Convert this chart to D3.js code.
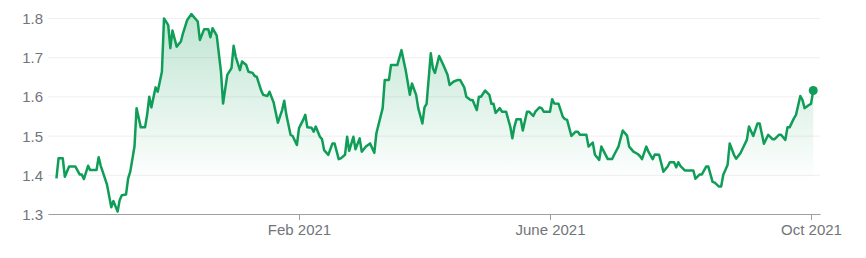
<!DOCTYPE html>
<html>
<head>
<meta charset="utf-8">
<script src="https://cdn.jsdelivr.net/npm/d3@7"></script>
<style>
  html, body { margin: 0; padding: 0; background: #fff; }
  svg { display: block; }
  .axis text { font-family: Arial, "Liberation Sans", sans-serif; fill: #70757a; }
</style>
</head>
<body>
<div id="chart"></div>
<script>
const dates = [
  "2020-10-09","2020-10-10","2020-10-12","2020-10-13","2020-10-15","2020-10-18","2020-10-20","2020-10-21",
  "2020-10-22","2020-10-24","2020-10-25","2020-10-28","2020-10-29","2020-10-30","2020-11-01","2020-11-02",
  "2020-11-04","2020-11-05","2020-11-07","2020-11-08","2020-11-09","2020-11-11","2020-11-12","2020-11-13",
  "2020-11-15","2020-11-16","2020-11-18","2020-11-20","2020-11-21","2020-11-22","2020-11-23","2020-11-25",
  "2020-11-26","2020-11-28","2020-11-29","2020-12-01","2020-12-02","2020-12-03","2020-12-05","2020-12-07",
  "2020-12-08","2020-12-10","2020-12-12","2020-12-15","2020-12-16","2020-12-18","2020-12-20","2020-12-21",
  "2020-12-22","2020-12-24","2020-12-26","2020-12-27","2020-12-29","2020-12-31","2021-01-01","2021-01-02",
  "2021-01-04","2021-01-05","2021-01-07","2021-01-08","2021-01-10","2021-01-11","2021-01-12","2021-01-14",
  "2021-01-15","2021-01-17","2021-01-18","2021-01-20","2021-01-21","2021-01-22","2021-01-24","2021-01-25",
  "2021-01-26","2021-01-28","2021-01-29","2021-01-31","2021-02-01","2021-02-03","2021-02-04","2021-02-05",
  "2021-02-07","2021-02-08","2021-02-09","2021-02-11","2021-02-12","2021-02-13","2021-02-15","2021-02-17",
  "2021-02-18","2021-02-20","2021-02-21","2021-02-23","2021-02-24","2021-02-25","2021-02-27","2021-02-28",
  "2021-03-02","2021-03-03","2021-03-05","2021-03-07","2021-03-09","2021-03-10","2021-03-13","2021-03-14",
  "2021-03-16","2021-03-17","2021-03-20","2021-03-22","2021-03-24","2021-03-26","2021-03-27","2021-03-29",
  "2021-03-30","2021-04-01","2021-04-02","2021-04-03","2021-04-05","2021-04-06","2021-04-07","2021-04-09",
  "2021-04-11","2021-04-13","2021-04-14","2021-04-16","2021-04-18","2021-04-19","2021-04-21","2021-04-22",
  "2021-04-24","2021-04-25","2021-04-27","2021-04-28","2021-04-29","2021-05-01","2021-05-03","2021-05-04",
  "2021-05-05","2021-05-06","2021-05-08","2021-05-09","2021-05-11","2021-05-13","2021-05-14","2021-05-15",
  "2021-05-16","2021-05-18","2021-05-19","2021-05-21","2021-05-22","2021-05-24","2021-05-25","2021-05-27",
  "2021-05-28","2021-05-29","2021-06-01","2021-06-02","2021-06-03","2021-06-05","2021-06-07","2021-06-08",
  "2021-06-09","2021-06-11","2021-06-13","2021-06-14","2021-06-15","2021-06-18","2021-06-19","2021-06-21",
  "2021-06-22","2021-06-24","2021-06-25","2021-06-27","2021-06-28","2021-06-30","2021-07-01","2021-07-03",
  "2021-07-05","2021-07-07","2021-07-08","2021-07-10","2021-07-12","2021-07-13","2021-07-14","2021-07-16",
  "2021-07-17","2021-07-19","2021-07-20","2021-07-22","2021-07-24","2021-07-26","2021-07-27","2021-07-29",
  "2021-07-30","2021-07-31","2021-08-01","2021-08-03","2021-08-07","2021-08-08","2021-08-10","2021-08-11",
  "2021-08-13","2021-08-14","2021-08-16","2021-08-17","2021-08-19","2021-08-20","2021-08-21","2021-08-23",
  "2021-08-24","2021-08-26","2021-08-27","2021-08-29","2021-09-01","2021-09-02","2021-09-04","2021-09-06",
  "2021-09-07","2021-09-09","2021-09-11","2021-09-13","2021-09-14","2021-09-16","2021-09-17","2021-09-19",
  "2021-09-20","2021-09-21","2021-09-23","2021-09-24","2021-09-26","2021-09-27","2021-09-28","2021-09-30",
  "2021-10-01","2021-10-02"
]
const prices = [
  1.391,1.442,1.442,1.395,1.421,1.421,1.401,1.401,
  1.389,1.423,1.412,1.412,1.445,1.423,1.391,1.374,
  1.317,1.333,1.306,1.336,1.348,1.350,1.391,1.408,
  1.472,1.570,1.521,1.521,1.553,1.599,1.572,1.623,
  1.612,1.663,1.799,1.782,1.723,1.768,1.727,1.740,
  1.761,1.795,1.810,1.791,1.744,1.771,1.771,1.751,
  1.774,1.755,1.663,1.582,1.655,1.672,1.729,1.701,
  1.667,1.689,1.680,1.663,1.660,1.652,1.650,1.616,
  1.604,1.601,1.612,1.584,1.558,1.533,1.565,1.589,
  1.553,1.502,1.499,1.476,1.519,1.540,1.553,1.521,
  1.520,1.510,1.523,1.497,1.491,1.463,1.451,1.480,
  1.480,1.440,1.442,1.451,1.497,1.461,1.497,1.465,
  1.493,1.459,1.472,1.480,1.456,1.506,1.570,1.642,
  1.642,1.680,1.680,1.718,1.667,1.604,1.633,1.604,
  1.570,1.531,1.572,1.581,1.710,1.672,1.660,1.703,
  1.680,1.655,1.629,1.638,1.642,1.642,1.623,1.599,
  1.591,1.591,1.565,1.599,1.599,1.615,1.604,1.581,
  1.581,1.558,1.570,1.561,1.561,1.523,1.493,1.523,
  1.542,1.542,1.513,1.561,1.561,1.550,1.561,1.572,
  1.570,1.561,1.561,1.593,1.582,1.581,1.548,1.542,
  1.540,1.499,1.510,1.510,1.502,1.502,1.472,1.482,
  1.451,1.438,1.472,1.451,1.440,1.440,1.451,1.472,
  1.513,1.500,1.472,1.459,1.453,1.448,1.440,1.472,
  1.459,1.440,1.452,1.451,1.408,1.421,1.432,1.432,
  1.419,1.432,1.422,1.411,1.411,1.390,1.401,1.401,
  1.421,1.421,1.382,1.380,1.370,1.370,1.400,1.425,
  1.480,1.451,1.441,1.455,1.489,1.523,1.499,1.531,
  1.531,1.479,1.502,1.491,1.491,1.502,1.502,1.489,
  1.521,1.521,1.544,1.553,1.601,1.591,1.570,1.578,
  1.581,1.615
]
const yTicks = [1.3, 1.4, 1.5, 1.6, 1.7, 1.8]
const xTickDates = ["2021-02-01", "2021-06-01", "2021-10-01"]
const xTickLabels = ["Feb 2021", "June 2021", "Oct 2021"]

const width = 866
const height = 258
const green = '#0f9d58'
const parse = d3.timeParse('%Y-%m-%d')

const data = dates.map((d, i) => ({ date: parse(d), value: prices[i] }))

// the axis is spaced a little unevenly between month labels
const x = d3.scaleTime()
  .domain([parse('2020-10-05'), parse('2021-02-01'), parse('2021-06-01'), parse('2021-10-01'), parse('2021-10-05')])
  .range([48, 299, 550, 811, 820])
const y = d3.scaleLinear().domain([1.3, 1.8]).range([214, 18])

const svg = d3.select('#chart')
  .append('svg')
  .attr('width', width)
  .attr('height', height)

const defs = svg.append('defs')
const grad = defs.append('linearGradient')
  .attr('id', 'fade')
  .attr('gradientUnits', 'userSpaceOnUse')
  .attr('x1', 0).attr('y1', y(1.8))
  .attr('x2', 0).attr('y2', y(1.38))
grad.append('stop').attr('offset', '0%').attr('stop-color', green).attr('stop-opacity', 0.26)
grad.append('stop').attr('offset', '100%').attr('stop-color', green).attr('stop-opacity', 0)

// gridlines + y labels
const yAxis = svg.append('g')
  .attr('class', 'axis')
  .attr('transform', 'translate(48,0)')
  .call(d3.axisLeft(y).tickValues(yTicks).tickSize(-(820 - 48)).tickPadding(5).tickFormat(d3.format('.1f')))
yAxis.select('.domain').remove()
yAxis.selectAll('line').attr('stroke', '#efefef').attr('stroke-width', 1)
yAxis.selectAll('text').attr('font-size', 15).attr('dy', '0.36em')

// area under line
const area = d3.area()
  .x(d => x(d.date))
  .y0(y(1.3))
  .y1(d => y(d.value))
svg.append('path')
  .datum(data)
  .attr('d', area)
  .attr('fill', 'url(#fade)')

// x axis
const xAxis = svg.append('g')
  .attr('class', 'axis')
  .attr('transform', 'translate(0,' + y(1.3) + ')')
  .call(d3.axisBottom(x)
    .tickValues(xTickDates.map(parse))
    .tickFormat((d, i) => xTickLabels[i])
    .tickSizeInner(6).tickSizeOuter(0).tickPadding(4))
xAxis.select('.domain').attr('stroke', '#9aa0a6').attr('stroke-width', 1.2)
xAxis.selectAll('line').attr('stroke', '#9aa0a6')
xAxis.selectAll('text').attr('font-size', 15)

const line = d3.line()
  .x(d => x(d.date))
  .y(d => y(d.value))
svg.append('path')
  .datum(data)
  .attr('d', line)
  .attr('fill', 'none')
  .attr('stroke', green)
  .attr('stroke-width', 2.5)
  .attr('stroke-linejoin', 'round')

const last = data[data.length - 1]
svg.append('circle')
  .attr('cx', x(last.date))
  .attr('cy', y(last.value))
  .attr('r', 4.5)
  .attr('fill', green)
</script>
</body>
</html>
